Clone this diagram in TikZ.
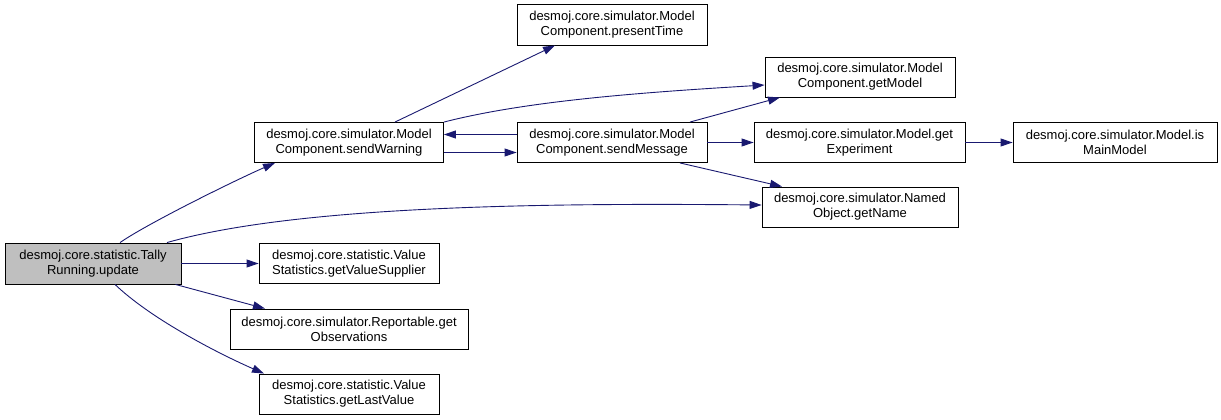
\documentclass[tikz,border=0pt]{standalone}
\usepackage{fontspec}
\setmainfont{Liberation Sans}
\usetikzlibrary{arrows.meta}
\definecolor{edgeblue}{HTML}{191970}
\tikzset{
  fn/.style={draw=black, line width=0.9pt, fill=white, align=center, inner sep=0pt,
    minimum height=40pt, font=\fontsize{13}{15}\selectfont},
  call/.style={draw=edgeblue, line width=0.9pt, -{Triangle[length=12pt,width=8pt]}, fill=none}
}
\begin{document}
\begin{tikzpicture}[x=1pt, y=-1pt]
  \useasboundingbox (0,0) rectangle (1221,420);

  % caller
  \node[fn, fill=gray!50, minimum width=176pt, minimum height=41pt] (update) at (93,263.5)
    {desmoj.core.statistic.Tally\\Running.update};

  % first level
  \node[fn, minimum width=189pt] (sendWarning) at (349,142.5)
    {desmoj.core.simulator.Model\\Component.sendWarning};
  \node[fn, minimum width=180pt] (getValueSupplier) at (349,263.5)
    {desmoj.core.statistic.Value\\Statistics.getValueSupplier};
  \node[fn, minimum width=238pt] (getObservations) at (349,329)
    {desmoj.core.simulator.Reportable.get\\Observations};
  \node[fn, minimum width=180pt] (getLastValue) at (349,394)
    {desmoj.core.statistic.Value\\Statistics.getLastValue};

  % second level
  \node[fn, minimum width=190pt, minimum height=41pt] (presentTime) at (612,24.5)
    {desmoj.core.simulator.Model\\Component.presentTime};
  \node[fn, minimum width=190pt] (sendMessage) at (612,142.5)
    {desmoj.core.simulator.Model\\Component.sendMessage};

  % third level
  \node[fn, minimum width=190pt] (getModel) at (860,77)
    {desmoj.core.simulator.Model\\Component.getModel};
  \node[fn, minimum width=211pt] (getExperiment) at (859.5,142.5)
    {desmoj.core.simulator.Model.get\\Experiment};
  \node[fn, minimum width=196pt] (getName) at (860,207)
    {desmoj.core.simulator.Named\\Object.getName};
  \node[fn, minimum width=204pt] (isMainModel) at (1115,142.5)
    {desmoj.core.simulator.Model.is\\MainModel};

  % calls from update
  \draw[call] ([xshift=27pt]update.north) .. controls (150,222) and (240,178) .. ([xshift=-74pt]sendWarning.south);
  \draw[call] ([xshift=74pt]update.north) .. controls (300,205) and (550,203) .. ([yshift=2pt]getName.west);
  \draw[call] (update) -- (getValueSupplier);
  \draw[call] ([xshift=-6pt]update.south east) -- ([xshift=-84pt]getObservations.north);
  \draw[call] ([xshift=22pt]update.south) .. controls (150,318) and (215,352) .. ([xshift=-85pt]getLastValue.north);

  % calls from sendWarning
  \draw[call] ([xshift=46pt]sendWarning.north) -- ([xshift=-57pt]presentTime.south);
  \draw[call] (sendWarning.north east) .. controls (530,100) and (650,92) .. ([yshift=-8pt]getModel.west);
  \draw[call] ([yshift=-10pt]sendWarning.east) -- ([yshift=-10pt]sendMessage.west);

  % calls from sendMessage
  \draw[call] ([yshift=8pt]sendMessage.west) -- ([yshift=8pt]sendWarning.east);
  \draw[call] ([xshift=78pt]sendMessage.north) -- ([xshift=-80pt]getModel.south);
  \draw[call] (sendMessage) -- (getExperiment);
  \draw[call] ([xshift=68pt]sendMessage.south) -- ([xshift=-78pt]getName.north);

  \draw[call] (getExperiment) -- (isMainModel);
\end{tikzpicture}
\end{document}
